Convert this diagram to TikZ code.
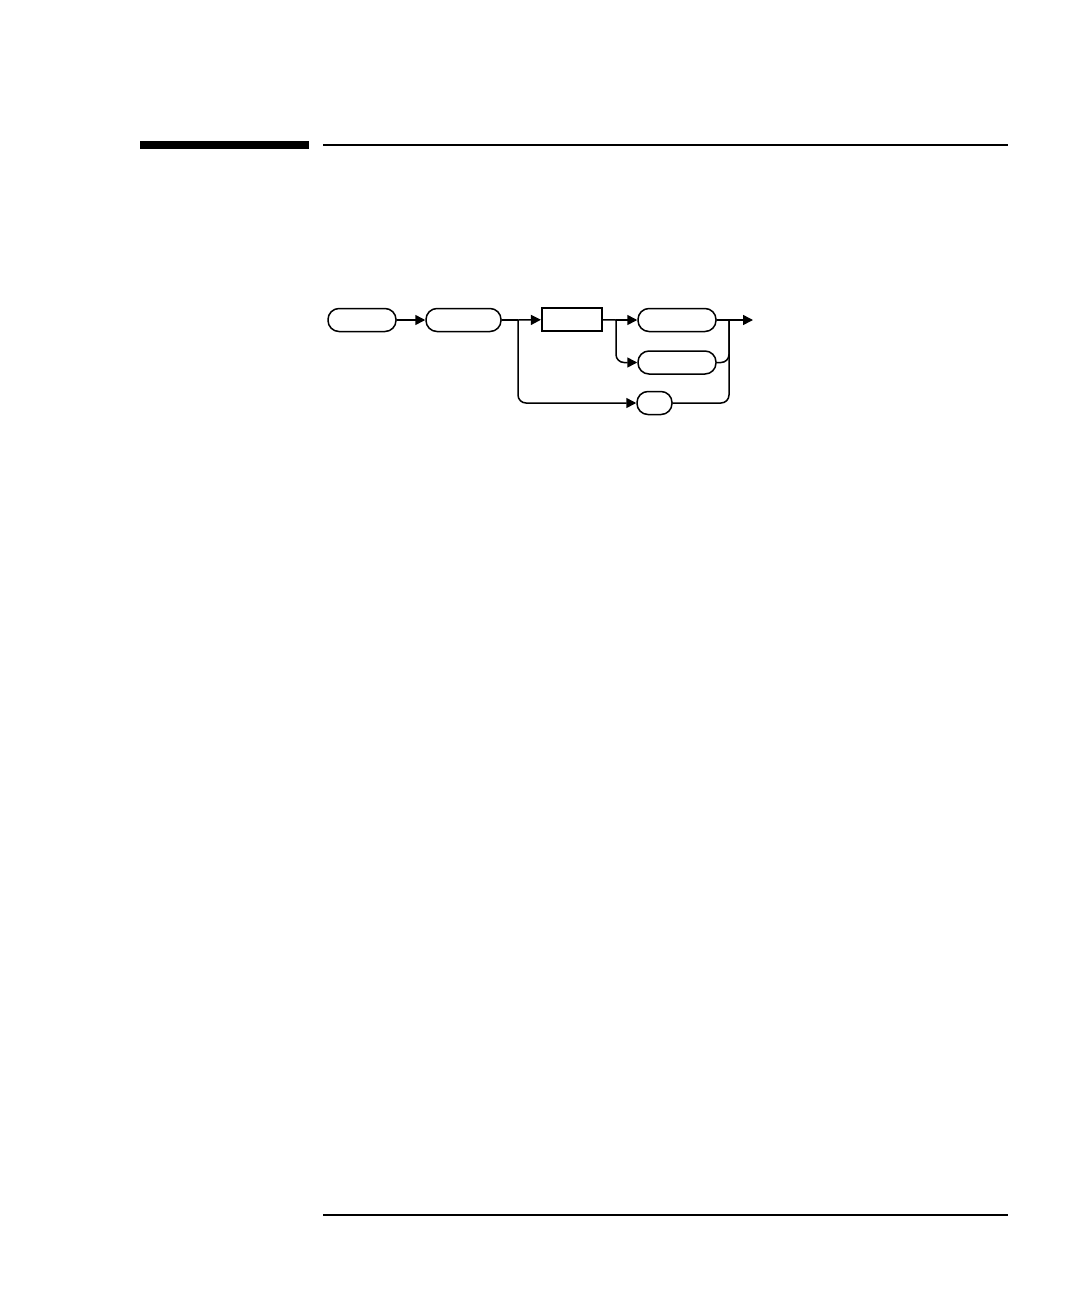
\documentclass[tikz,border=0pt]{standalone}
\usetikzlibrary{arrows.meta}

\begin{document}
\begin{tikzpicture}
[x=0.5pt,y=-0.5pt,line width=0.75pt,%
  termDecorate/.style={draw,rounded corners=5.5pt,minimum height=11.5pt,inner sep=0pt},%
  boxDecorate/.style={draw,line width=1.1pt,minimum height=11.5pt,inner sep=0pt},%
  lineDecorate/.style={-{Triangle[length=5pt,width=5pt]}},%
  bendDecorate/.style={rounded corners=4pt}]
\useasboundingbox (0,0) rectangle (1080,1296);
%% page rules
\fill (140,141) rectangle (309,149);
\draw (323,145) -- (1008,145);
\draw (323,1215) -- (1008,1215);
%% nodes
\node[termDecorate,minimum width=34pt] (root) at (362,320) {};
\node[termDecorate,minimum width=37.5pt] (sub) at (463.5,320) {};
\node[boxDecorate,minimum width=30pt] (param) at (572,319.5) {};
\foreach \nodename/\x/\y/\w in {
  optA/677/320/39, optB/677/362.5/39, query/654.5/403/17.5}
{
  \node[termDecorate,minimum width=\w pt] (\nodename) at (\x,\y) {};
}
%% branch points
\coordinate (splitA) at (518,320);
\coordinate (splitB) at (616,320);
\coordinate (join) at (729,320);
\coordinate (finish) at (753,320);
%% connect nodes
\draw[lineDecorate] (root) -- (sub);
\draw (sub) -- (splitA);
\draw[lineDecorate] (splitA) -- (param);
\draw (param) -- (splitB);
\draw[lineDecorate] (splitB) -- (optA);
\draw[lineDecorate,bendDecorate] (splitB) |- (optB);
\draw[lineDecorate,bendDecorate] (splitA) |- (query);
\draw (optA) -- (join);
\draw[bendDecorate] (optB) -| (join);
\draw[bendDecorate] (query) -| (join);
\draw[lineDecorate] (join) -- (finish);
\end{tikzpicture}
\end{document}
